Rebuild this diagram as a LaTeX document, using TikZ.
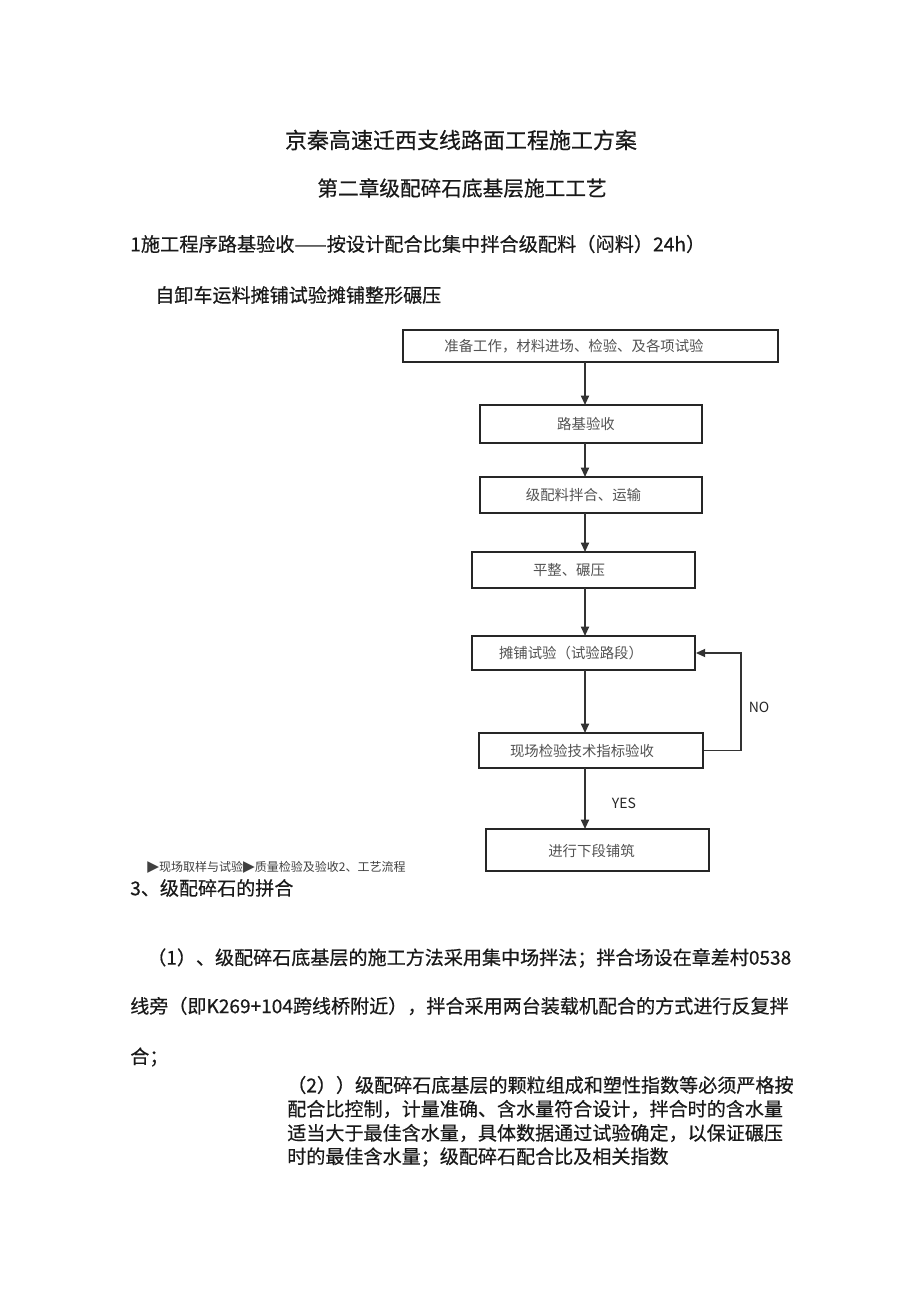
\documentclass[tikz,border=0pt]{standalone}
\usepackage{fontspec}
\setmainfont{Noto Sans CJK SC}[FakeBold=0.5]
\newfontfamily\cjk{Noto Sans CJK SC}
\newfontfamily\symfont{DejaVu Sans}
\usetikzlibrary{arrows.meta}
\begin{document}
\begin{tikzpicture}[x=0.75pt,y=-0.75pt,
  txt/.style={inner sep=0pt, anchor=west, text=black!90},
  box/.style={draw=black!85, line width=1.3pt, inner sep=0pt},
  btxt/.style={inner sep=0pt, text=black!68, font=\cjk\fontsize{10.8}{12}\selectfont},
  arr/.style={draw=black!80, line width=1.3pt, -{Triangle[length=7pt,width=6pt]}},
  lbl/.style={inner sep=0pt, font=\cjk\fontsize{10.5}{12}\selectfont, text=black!85}]
\useasboundingbox (0,0) rectangle (920,1303);
% headings
\node[inner sep=0pt, text=black!90, font=\fontsize{16.5}{18}\selectfont] (title) at (461,140) {京秦高速迁西支线路面工程施工方案};
\node[inner sep=0pt, text=black!90, font=\fontsize{15.5}{18}\selectfont] (sub) at (462,188) {第二章级配碎石底基层施工工艺};
\node[txt, font=\fontsize{14.4}{17}\selectfont] (l3) at (130,244) {1施工程序路基验收——按设计配合比集中拌合级配料（闷料）24h）};
\node[txt, font=\fontsize{14.3}{17}\selectfont] (l4) at (155,295) {自卸车运料摊铺试验摊铺整形碾压};
% flowchart boxes
\node[box, minimum width=375*0.75pt, minimum height=32*0.75pt] (b1) at (590.5,346) {};
\node[box, minimum width=222*0.75pt, minimum height=38*0.75pt] (b2) at (591,424) {};
\node[box, minimum width=222*0.75pt, minimum height=36*0.75pt] (b3) at (591,495) {};
\node[box, minimum width=223*0.75pt, minimum height=36*0.75pt] (b4) at (583.5,570) {};
\node[box, minimum width=223*0.75pt, minimum height=34*0.75pt] (b5) at (583.5,653) {};
\node[box, minimum width=224*0.75pt, minimum height=35*0.75pt] (b6) at (591,750.5) {};
\node[box, minimum width=223*0.75pt, minimum height=42*0.75pt] (b7) at (597.5,850) {};
% box texts
\node[btxt] (t1) at (574,346) {准备工作，材料进场、检验、及各项试验};
\node[btxt] (t2) at (586,424) {路基验收};
\node[btxt] (t3) at (583.5,495) {级配料拌合、运输};
\node[btxt] (t4) at (569,570) {平整、碾压};
\node[btxt] (t5) at (571,653) {摊铺试验（试验路段）};
\node[btxt] (t6) at (582,750.5) {现场检验技术指标验收};
\node[btxt] (t7) at (591.5,851) {进行下段铺筑};
% connectors
\coordinate (c1) at (585,362);
\coordinate (c2) at (585,405);
\coordinate (c3) at (585,443);
\coordinate (c4) at (585,477);
\coordinate (c5) at (585,513);
\coordinate (c6) at (585,552);
\coordinate (c7) at (585,588);
\coordinate (c8) at (585,636);
\coordinate (c9) at (585,670);
\coordinate (c10) at (585,733);
\coordinate (c11) at (585,768);
\coordinate (c12) at (585,829);
\draw[arr] (c1) -- (c2);
\draw[arr] (c3) -- (c4);
\draw[arr] (c5) -- (c6);
\draw[arr] (c7) -- (c8);
\draw[arr] (c9) -- (c10);
\draw[arr] (c11) -- (c12);
\coordinate (nr) at (741,750.5);
\draw[arr] (b6.east) -- (nr) |- (b5.east);
\node[lbl] (no) at (759,707) {NO};
\node[lbl] (yes) at (624,803) {YES};
% bottom
\node[txt, text=black!75, font=\cjk\fontsize{9}{11}\selectfont] (small) at (147,867) {{\symfont\fontsize{11.5}{11}\selectfont ▶}现场取样与试验{\symfont\fontsize{11.5}{11}\selectfont ▶}质量检验及验收2、工艺流程};
\node[txt, font=\fontsize{14.3}{17}\selectfont] (s3) at (130,888) {3、级配碎石的拼合};
\node[txt, font=\fontsize{14.3}{17}\selectfont] (p1a) at (147,958) {（1）、级配碎石底基层的施工方法采用集中场拌法；拌合场设在章差村0538};
\node[txt, font=\fontsize{14.3}{17}\selectfont] (p1b) at (130,1006) {线旁（即K269+104跨线桥附近），拌合采用两台装载机配合的方式进行反复拌};
\node[txt, font=\fontsize{14.3}{17}\selectfont] (p1c) at (130,1057) {合；};
\node[txt, font=\fontsize{14.3}{17}\selectfont] (p2a) at (287,1085) {（2））级配碎石底基层的颗粒组成和塑性指数等必须严格按};
\node[txt, font=\fontsize{14.3}{17}\selectfont] (p2b) at (287,1109) {配合比控制，计量准确、含水量符合设计，拌合时的含水量};
\node[txt, font=\fontsize{14.3}{17}\selectfont] (p2c) at (287,1133) {适当大于最佳含水量，具体数据通过试验确定，以保证碾压};
\node[txt, font=\fontsize{14.3}{17}\selectfont] (p2d) at (287,1157) {时的最佳含水量；级配碎石配合比及相关指数};
\end{tikzpicture}
\end{document}
